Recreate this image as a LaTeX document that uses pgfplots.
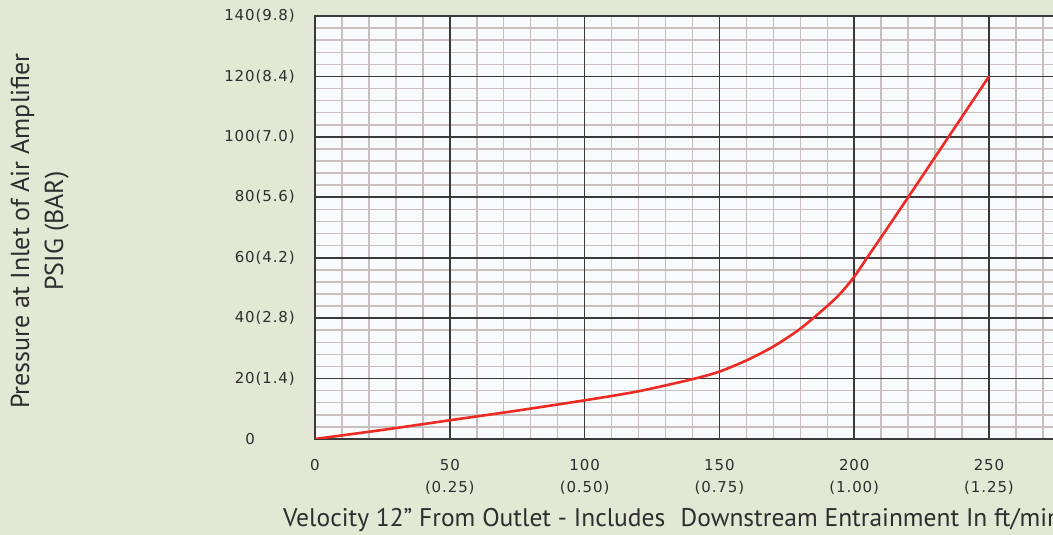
\documentclass[border=0pt]{standalone}
\usepackage{fontspec}
\setmainfont{PT Sans}
\newfontfamily\tickfont[LetterSpace=6]{DejaVu Sans}
\usepackage{pgfplots}
\pgfplotsset{compat=1.18}
\definecolor{bg}{HTML}{E2E8D4}
\definecolor{plotbg}{HTML}{F9FAFB}
\definecolor{majorgrid}{HTML}{3A3A3A}
\definecolor{minorgrid}{HTML}{C9BFBF}
\definecolor{curve}{HTML}{EC2B24}
\definecolor{txt}{HTML}{2E2E2E}
\begin{document}
\begin{tikzpicture}
\fill[bg] (0,0) rectangle (1053bp,535bp);
\begin{axis}[
  at={(315bp,96bp)}, anchor=south west,
  scale only axis, width=754.9bp, height=423bp,
  xmin=0, xmax=280, ymin=0, ymax=140,
  axis background/.style={fill=plotbg},
  axis line style={draw=majorgrid, line width=1.6bp},
  xtick={0,10,...,280}, xticklabels={},
  ytick={0,4,...,140}, yticklabels={},
  major tick length=0pt,
  grid=major,
  major grid style={draw=minorgrid, line width=1.5bp},
  extra x ticks={0,50,100,150,200,250},
  extra x tick labels={0,{50\\(0.25)},{100\\(0.50)},{150\\(0.75)},{200\\(1.00)},{250\\(1.25)}},
  extra y ticks={0,20,40,60,80,100,120,140},
  extra y tick labels={0\hspace*{40bp},20(1.4),40(2.8),60(4.2),80(5.6),100(7.0),120(8.4),140(9.8)},
  extra tick style={grid=major, major grid style={draw=majorgrid, line width=1.6bp}, major tick length=0pt},
  xticklabel style={font=\tickfont\fontsize{15bp}{22bp}\selectfont, text=txt, align=center, anchor=north, inner sep=0pt, yshift=-20bp},
  yticklabel style={font=\tickfont\fontsize{15bp}{18bp}\selectfont, text=txt, anchor=east, inner sep=0pt, xshift=-20bp},
  clip=true,
]
\addplot[curve, line width=2.6bp, smooth, tension=0.45] coordinates {
  (0,0) (25,3.0) (50,6.2) (75,9.4) (100,12.8) (120,15.8) (140,19.8)
  (150,22.3) (160,26.0) (170,30.6) (180,36.5) (190,44.0) (195,48.3)
  (200,53.7) (205,60.3) (210,66.8) (220,80.0) (235,100.0) (250,120.0)
};
\end{axis}
\node[font=\fontsize{25.5bp}{30bp}\selectfont, text=txt, anchor=base west, inner sep=0pt] at (283bp,8.3bp)
  {Velocity 12” From Outlet - Includes\hspace{0.6em}Downstream Entrainment In ft/min};
\node[font=\fontsize{26bp}{30bp}\selectfont, text=txt, anchor=base, rotate=90, inner sep=0pt] at (29bp,304bp)
  {Pressure at Inlet of Air Amplifier};
\node[font=\fontsize{26bp}{30bp}\selectfont, text=txt, anchor=base, rotate=90, inner sep=0pt] at (63bp,304bp)
  {PSIG (BAR)};
\pgfresetboundingbox
\useasboundingbox (0,0) rectangle (1053bp,535bp);
\end{tikzpicture}
\end{document}
